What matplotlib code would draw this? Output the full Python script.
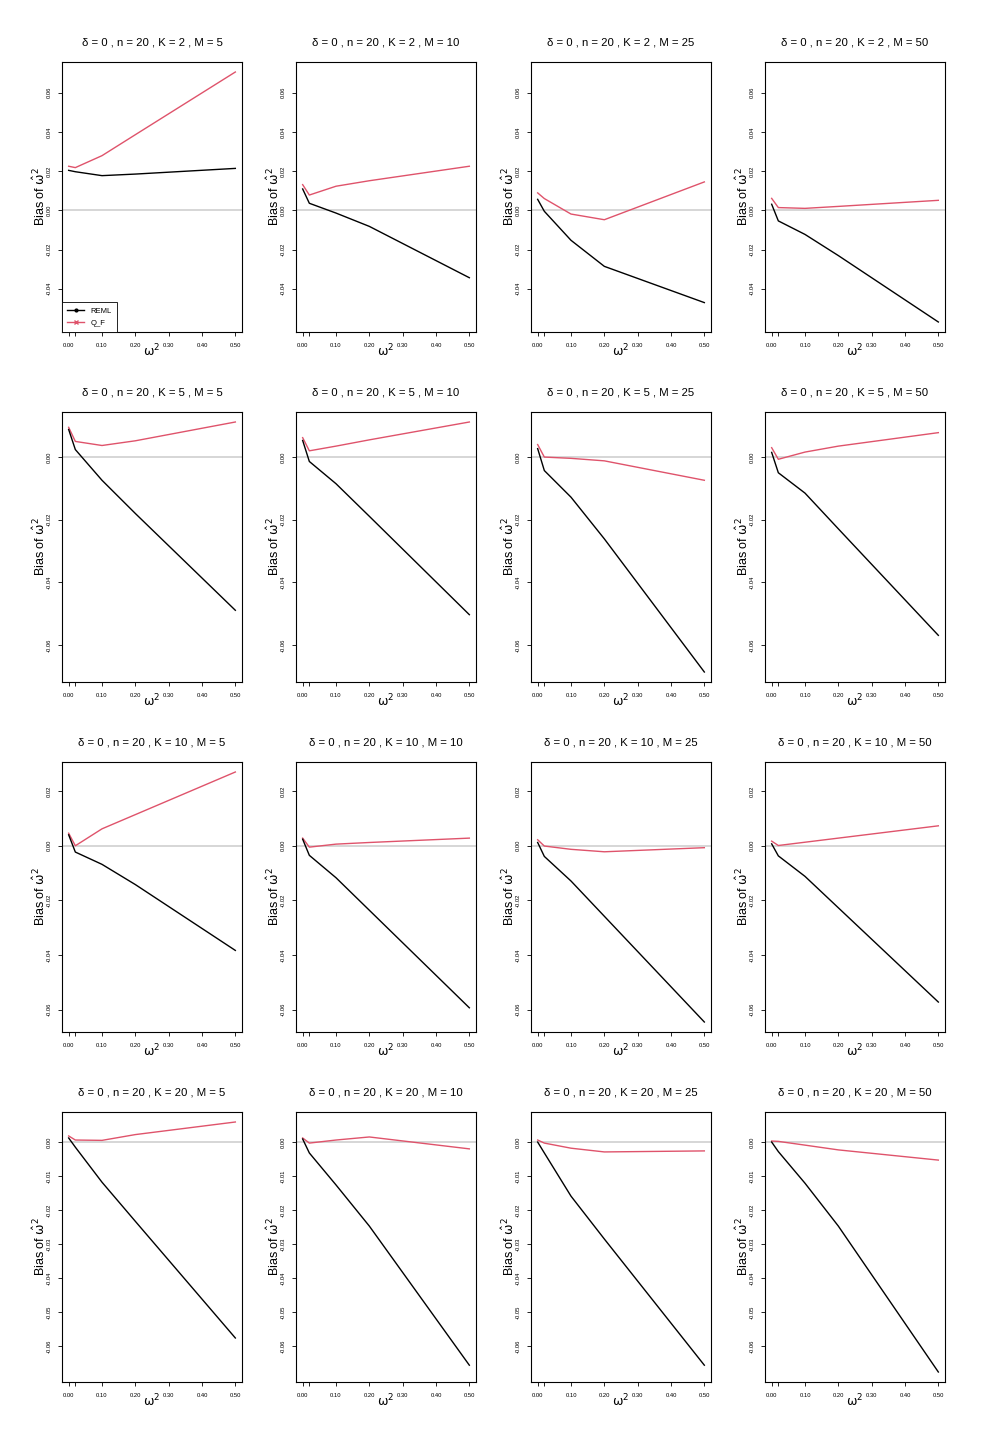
import matplotlib
matplotlib.use("Agg")
import matplotlib.pyplot as plt
from matplotlib.lines import Line2D
import numpy as np

plt.rcParams['font.family'] = ['Liberation Sans', 'DejaVu Sans']
plt.rcParams['mathtext.fontset'] = 'dejavusans'

# ---------------- data ----------------
omega2 = [0.0, 0.02, 0.1, 0.2, 0.5]
K_values = [2, 5, 10, 20]
M_values = [5, 10, 25, 50]
delta = 0
n = 20

# REML bias, one list per M (5, 10, 25, 50) for each K
reml_K2 = [
    [0.0204, 0.0197, 0.0177, 0.0185, 0.0214],
    [0.0109, 0.0036, -0.0014, -0.0082, -0.0344],
    [0.0056, -0.0005, -0.0153, -0.0286, -0.0471],
    [0.0031, -0.0054, -0.0123, -0.0231, -0.0570],
]
qf_K2 = [
    [0.0225, 0.0218, 0.0279, 0.0386, 0.0706],
    [0.0131, 0.0078, 0.0123, 0.0151, 0.0225],
    [0.0089, 0.0060, -0.0019, -0.0048, 0.0145],
    [0.0061, 0.0014, 0.0010, 0.0020, 0.0051],
]
reml_K5 = [
    [0.0088, 0.0024, -0.0074, -0.0180, -0.0489],
    [0.0053, -0.0014, -0.0085, -0.0189, -0.0503],
    [0.0027, -0.0043, -0.0128, -0.0261, -0.0686],
    [0.0015, -0.0050, -0.0115, -0.0229, -0.0569],
]
qf_K5 = [
    [0.0095, 0.0050, 0.0037, 0.0052, 0.0112],
    [0.0062, 0.0020, 0.0035, 0.0055, 0.0112],
    [0.0040, 0.0000, -0.0004, -0.0012, -0.0074],
    [0.0030, -0.0007, 0.0016, 0.0035, 0.0078],
]
reml_K10 = [
    [0.0040, -0.0023, -0.0068, -0.0142, -0.0383],
    [0.0024, -0.0035, -0.0117, -0.0236, -0.0593],
    [0.0012, -0.0039, -0.0129, -0.0258, -0.0645],
    [0.0007, -0.0037, -0.0112, -0.0227, -0.0572],
]
qf_K10 = [
    [0.0046, 0.0000, 0.0062, 0.0114, 0.0270],
    [0.0028, -0.0005, 0.0006, 0.0012, 0.0028],
    [0.0022, -0.0001, -0.0013, -0.0022, -0.0007],
    [0.0017, 0.0001, 0.0013, 0.0028, 0.0073],
]
reml_K20 = [
    [0.0012, -0.0015, -0.0118, -0.0233, -0.0576],
    [0.0009, -0.0032, -0.0126, -0.0247, -0.0656],
    [0.0000, -0.0032, -0.0159, -0.0285, -0.0656],
    [0.0000, -0.0028, -0.0121, -0.0247, -0.0676],
]
qf_K20 = [
    [0.0018, 0.0006, 0.0005, 0.0022, 0.0059],
    [0.0012, -0.0003, 0.0006, 0.0015, -0.0020],
    [0.0006, -0.0003, -0.0018, -0.0029, -0.0026],
    [0.0003, 0.0002, -0.0009, -0.0023, -0.0053],
]

reml_rows = [reml_K2, reml_K5, reml_K10, reml_K20]
qf_rows = [qf_K2, qf_K5, qf_K10, qf_K20]
ytick_steps = [0.02, 0.02, 0.02, 0.01]

x_ticks = [0.0, 0.02, 0.1, 0.2, 0.3, 0.4, 0.5]
x_ticklabels = ['0.00', '', '0.10', '0.20', '0.30', '0.40', '0.50']

RED = '#DF536B'

# ---------------- layout ----------------
W, H = 990, 1452
fig = plt.figure(figsize=(W / 100, H / 100), dpi=100)
col_left = [62, 296, 531, 765]
row_top = [62, 412, 762, 1112]
aw, ah = 180, 270

for r, K in enumerate(K_values):
    all_vals = np.concatenate([np.ravel(reml_rows[r]), np.ravel(qf_rows[r])])
    lo, hi = all_vals.min(), all_vals.max()
    pad = 0.04 * (hi - lo)
    ylim = (lo - pad, hi + pad)
    step = ytick_steps[r]
    yt = np.arange(np.ceil(lo / step - 1e-9) * step, hi + 1e-12, step)
    for c, M in enumerate(M_values):
        ax = fig.add_axes([col_left[c] / W, 1 - (row_top[r] + ah) / H, aw / W, ah / H])
        ax.axhline(0, color='#D3D3D3', lw=1.3, zorder=1)
        ax.plot(omega2, reml_rows[r][c], color='black', lw=1.0, zorder=3)
        ax.plot(omega2, qf_rows[r][c], color=RED, lw=1.0, zorder=2)
        ax.set_xlim(-0.02, 0.52)
        ax.set_ylim(*ylim)
        ax.set_xticks(x_ticks)
        ax.set_xticklabels(x_ticklabels)
        ax.set_yticks(yt)
        ax.set_yticklabels([f"{v:.2f}" if abs(v) > 1e-9 else "0.00" for v in yt],
                           rotation=90, va='center')
        ax.tick_params(axis='both', length=3, width=0.6, labelsize=4.2, color='black')
        ax.tick_params(axis='x', pad=5.0)
        ax.tick_params(axis='y', pad=4.5)
        for sp in ax.spines.values():
            sp.set_linewidth(0.8)
        ax.set_title(f"\u03b4 = {delta} , n = {n} , K = {K} , M = {M}",
                     fontsize=8.2, pad=12)
        ax.text(-0.122, 0.5, r'Bias of $\mathrm{\hat{\omega}}^2$', transform=ax.transAxes,
                rotation=90, ha='center', va='center', fontsize=9)
        ax.text(0.5, -0.072, r'$\mathrm{\omega}^2$', transform=ax.transAxes,
                ha='center', va='center', fontsize=9)
        if r == 0 and c == 0:
            handles = [Line2D([], [], color='black', lw=1.0, marker='o', markersize=2),
                       Line2D([], [], color=RED, lw=1.0, marker='x', markersize=2.5)]
            leg = ax.legend(handles, ['REML', 'Q_F'], loc='lower left',
                            borderaxespad=0, fancybox=False, fontsize=5.5,
                            handlelength=2.2, handletextpad=0.8, borderpad=0.7,
                            labelspacing=0.6, framealpha=1)
            leg.get_frame().set_edgecolor('black')
            leg.get_frame().set_linewidth(0.6)

fig.savefig('out.png', dpi=100, facecolor='white')
